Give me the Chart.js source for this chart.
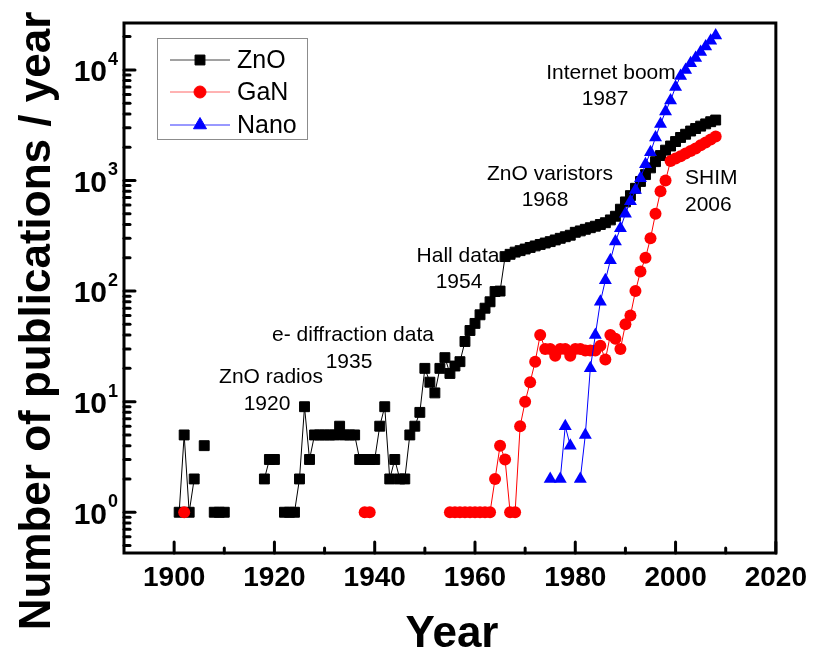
<!DOCTYPE html>
<html>
<head>
<meta charset="utf-8">
<script src="https://cdn.jsdelivr.net/npm/chart.js@4.4.0/dist/chart.umd.min.js"></script>
<style>
  html, body { margin: 0; padding: 0; background: #fff; }
  #wrap { width: 815px; height: 654px; }
</style>
</head>
<body>
<div id="wrap"><canvas id="pubs-chart" width="815" height="654"></canvas></div>
<script>
// publications per year (null = no point, breaks the line)
const znoYears = [1901,1902,1903,1904,1905,1906,1907,1908,1909,1910,1911,1918,1919,1920,1921,1922,1923,1924,1925,1926,1927,1928,1929,1930,1931,1932,1933,1934,1935,1936,1937,1938,1939,1940,1941,1942,1943,1944,1945,1946,1947,1948,1949,1950,1951,1952,1953,1954,1955,1956,1957,1958,1959,1960,1961,1962,1963,1964,1965,1966,1967,1968,1969,1970,1971,1972,1973,1974,1975,1976,1977,1978,1979,1980,1981,1982,1983,1984,1985,1986,1987,1988,1989,1990,1991,1992,1993,1994,1995,1996,1997,1998,1999,2000,2001,2002,2003,2004,2005,2006,2007,2008];
const znoCounts = [1,5,1,2,null,4,null,1,1,1,null,2,3,3,null,1,1,1,2,9,3,5,5,5,5,5,6,5,5,5,3,3,3,3,6,9,2,3,2,2,5,6,8,20,15,12,20,25,18,21,23,35,44,51,61,70,80,99,100,205,215,225,232,240,248,256,264,272,280,290,300,310,320,340,350,362,374,386,400,415,440,475,550,640,730,850,980,1130,1300,1480,1680,1880,2050,2250,2450,2620,2800,2950,3100,3250,3400,3520];

const ganYears = [1902,1903,1938,1939,1940,1955,1956,1957,1958,1959,1960,1961,1962,1963,1964,1965,1966,1967,1968,1969,1970,1971,1972,1973,1974,1975,1976,1977,1978,1979,1980,1981,1982,1983,1984,1985,1986,1987,1988,1989,1990,1991,1992,1993,1994,1995,1996,1997,1998,1999,2000,2001,2002,2003,2004,2005,2006,2007,2008];
const ganCounts = [1,null,1,1,null,1,1,1,1,1,1,1,1,1,2,4,3,1,1,6,10,15,23,40,30,30,26,30,30,26,30,30,29,29,29,32,24,40,37,30,50,60,100,150,200,300,500,800,1000,1500,1580,1660,1750,1850,1950,2080,2200,2350,2500];

const nanoYears = [1975,1976,1977,1978,1979,1980,1981,1982,1983,1984,1985,1986,1987,1988,1989,1990,1991,1992,1993,1994,1995,1996,1997,1998,1999,2000,2001,2002,2003,2004,2005,2006,2007,2008];
const nanoCounts = [2,null,2,6,4,null,2,5,20,40,80,125,190,280,370,500,650,820,1050,1400,1800,2450,3250,4200,5300,7000,8800,10000,11500,12800,14500,16300,18300,20500];

const seriesNames = ['ZnO', 'GaN', 'Nano'];
const yDecades = [0, 1, 2, 3, 4];          // labelled as 10^k
const annotationTexts = [
  ['ZnO radios', '1920'],
  ['e- diffraction data', '1935'],
  ['Hall data', '1954'],
  ['ZnO varistors', '1968'],
  ['Internet boom', '1987'],
  ['SHIM', '2006']
];

const FONT = 'Liberation Sans, Arial, Helvetica, sans-serif';
Chart.defaults.font.family = FONT;
Chart.defaults.color = '#000';

function toPoints(years, counts) {
  return years.map((yr, i) => ({ x: yr, y: counts[i] }));
}

// frame, inward ticks, superscript labels, titles, legend and notes
const decorPlugin = {
  id: 'decor',
  afterDraw(chart) {
    const { ctx, chartArea: a, scales: { x, y } } = chart;
    ctx.save();

    // ticks (inside the frame)
    ctx.strokeStyle = '#000';
    ctx.lineWidth = 3;
    ctx.lineCap = 'round';
    for (let v = 1900; v <= 2020; v += 10) {
      const px = x.getPixelForValue(v);
      const len = v % 20 === 0 ? 11 : 5;
      ctx.beginPath(); ctx.moveTo(px, a.bottom); ctx.lineTo(px, a.bottom - len); ctx.stroke();
    }
    for (let k = -1; k <= 4; k++) {
      for (let m = 1; m <= 9; m++) {
        const val = m * Math.pow(10, k);
        if (val < y.min || val > y.max) continue;
        const py = y.getPixelForValue(val);
        const len = m === 1 ? 11 : 6;
        ctx.beginPath(); ctx.moveTo(a.left, py); ctx.lineTo(a.left + len, py); ctx.stroke();
      }
    }

    // frame
    ctx.lineCap = 'butt';
    ctx.strokeRect(a.left, a.top, a.right - a.left, a.bottom - a.top);

    // y labels 10^k
    ctx.fillStyle = '#000';
    yDecades.forEach(k => {
      const py = y.getPixelForValue(Math.pow(10, k));
      ctx.font = 'bold 30px ' + FONT;
      ctx.textAlign = 'right';
      ctx.textBaseline = 'middle';
      ctx.fillText('10', 107, py + 3);
      ctx.font = 'bold 18px ' + FONT;
      ctx.textAlign = 'left';
      ctx.fillText(String(k), 108, py - 10);
    });

    // axis titles
    ctx.font = 'bold 44px ' + FONT;
    ctx.textAlign = 'center';
    ctx.textBaseline = 'alphabetic';
    ctx.fillText('Year', 452, 647);
    ctx.save();
    ctx.translate(50, 321);
    ctx.rotate(-Math.PI / 2);
    ctx.fillText('Number of publications / year', 0, 0);
    ctx.restore();

    // notes
    const notePos = [
      [271, 377, 267, 404, 'center'],
      [353, 335, 349, 362, 'center'],
      [458, 256, 459, 282, 'center'],
      [550, 174, 545, 200, 'center'],
      [611, 73, 605, 99, 'center'],
      [685, 178, 685, 205, 'left']
    ];
    ctx.font = '21px ' + FONT;
    ctx.textBaseline = 'middle';
    annotationTexts.forEach((t, i) => {
      const p = notePos[i];
      ctx.textAlign = p[4];
      ctx.fillText(t[0], p[0], p[1]);
      ctx.fillText(t[1], p[2], p[3]);
    });

    // legend
    ctx.lineWidth = 1;
    ctx.strokeStyle = '#8c8c8c';
    ctx.strokeRect(157.5, 38.5, 150, 101);
    const rows = [60, 92, 125];
    chart.data.datasets.forEach((ds, i) => {
      const ry = rows[i];
      ctx.strokeStyle = ds.legendLine;
      ctx.lineWidth = 1;
      ctx.beginPath(); ctx.moveTo(170, ry); ctx.lineTo(230, ry); ctx.stroke();
      ctx.fillStyle = ds.backgroundColor;
      ctx.strokeStyle = ds.borderColor;
      Chart.helpers.drawPoint(ctx, {
        pointStyle: ds.pointStyle, radius: ds.pointRadius, rotation: 0, borderWidth: 1
      }, 200, ry);
      ctx.fillStyle = '#000';
      ctx.font = '25px ' + FONT;
      ctx.textAlign = 'left';
      ctx.textBaseline = 'middle';
      ctx.fillText(seriesNames[i], 237, ry + 1);
    });

    ctx.restore();
  }
};

const chart = new Chart(document.getElementById('pubs-chart'), {
  type: 'line',
  data: {
    datasets: [
      {
        label: seriesNames[0],
        data: toPoints(znoYears, znoCounts),
        borderColor: '#000', backgroundColor: '#000', legendLine: '#444',
        borderWidth: 1, pointStyle: 'rect', pointRadius: 7, pointBorderWidth: 1,
        order: 3
      },
      {
        label: seriesNames[1],
        data: toPoints(ganYears, ganCounts),
        borderColor: '#ff0000', backgroundColor: '#ff0000', legendLine: '#ff6666',
        borderWidth: 1, pointStyle: 'circle', pointRadius: 6, pointBorderWidth: 0,
        order: 2
      },
      {
        label: seriesNames[2],
        data: toPoints(nanoYears, nanoCounts),
        borderColor: '#0000ff', backgroundColor: '#0000ff', legendLine: '#3333ff',
        borderWidth: 1, pointStyle: 'triangle', pointRadius: 7.5, pointBorderWidth: 0,
        order: 1
      }
    ]
  },
  options: {
    responsive: false,
    animation: false,
    devicePixelRatio: 1,
    spanGaps: false,
    layout: { padding: { top: 23, right: 35, left: 0, bottom: 0 } },
    plugins: { legend: { display: false }, tooltip: { enabled: false } },
    scales: {
      x: {
        type: 'linear',
        min: 1890, max: 2020,
        grid: { display: false, drawTicks: false },
        border: { display: false },
        ticks: {
          stepSize: 10, autoSkip: false, maxRotation: 0, padding: 8,
          font: { size: 28, weight: 'bold' },
          callback: v => (v % 20 === 0 ? String(v) : '')
        },
        afterFit: s => { s.height = 101; }
      },
      y: {
        type: 'logarithmic',
        min: 0.428, max: 26550,
        grid: { display: false, drawTicks: false },
        border: { display: false },
        ticks: { display: false },
        afterFit: s => { s.height; s.width = 124; }
      }
    }
  },
  plugins: [decorPlugin]
});
</script>
</body>
</html>
